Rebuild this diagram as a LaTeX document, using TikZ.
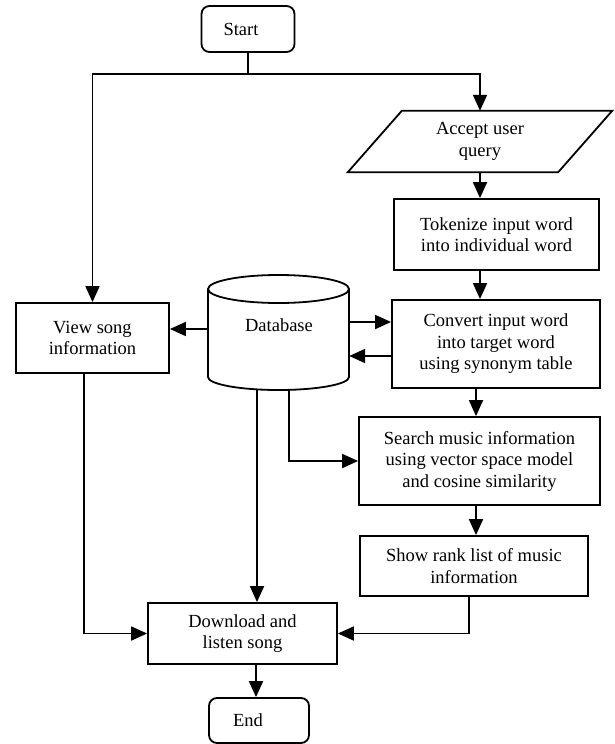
\documentclass[tikz,border=0pt]{standalone}
\usepackage{fontspec}
\setmainfont{Liberation Serif}
\usetikzlibrary{arrows.meta}
\begin{document}
\begin{tikzpicture}[x=1pt,y=-1pt,
  txt/.style={inner sep=0pt, align=center, font=\fontsize{18.5}{21.5}\selectfont},
  box/.style={txt, draw, line width=1.8pt},
  term/.style={box, rounded corners=8pt},
  conn/.style={line width=1.8pt},
  arr/.style={conn, -{Triangle[length=16pt,width=14pt]}}]
\useasboundingbox (0,0) rectangle (614,744);
% nodes
\node[term, minimum width=93pt, minimum height=46pt] (start) at (248,29) {Start\hspace*{14pt}};
\node[txt, minimum width=210pt, minimum height=61pt] (acc) at (480,141.5) {Accept user\\query};
\draw[conn] ([xshift=27pt]acc.north west) -- ([xshift=27pt]acc.north east)
  -- ([xshift=-27pt]acc.south east) -- ([xshift=-27pt]acc.south west) -- cycle;
\node[box, minimum width=205pt, minimum height=71pt] (tok) at (496.5,234.5) {Tokenize input word\\into individual word};
\node[box, minimum width=208pt, minimum height=88pt] (conv) at (496,344) {Convert input word\\into target word\\using synonym table};
\node[box, minimum width=153pt, minimum height=70pt] (view) at (92.5,338) {View song\\information};
\node[box, minimum width=241pt, minimum height=88pt] (search) at (479.5,461) {Search music information\\using vector space model\\and cosine similarity};
\node[box, minimum width=228pt, minimum height=60pt] (rank) at (474,566) {Show rank list of music\\information};
\node[box, minimum width=189pt, minimum height=61pt] (dl) at (242.5,633.5) {Download and\\listen song};
\node[term, minimum width=100pt, minimum height=45pt] (fin) at (259,720.5) {End\hspace*{22pt}};
% database cylinder
\node[txt, minimum width=141pt, minimum height=116pt] (db) at (278.5,333) {};
\draw[conn] (208,289) -- (208,377) arc[start angle=180, end angle=360, x radius=70.5pt, y radius=13pt] -- (349,289);
\draw[conn] (278.5,289) ellipse [x radius=70.5pt, y radius=14pt];
\node[txt] (dblbl) at (279,325) {Database};
% helper coordinates
\path (start.south) ++(0,21) coordinate (j);
\coordinate (cB) at (476,0);
\coordinate (cR) at (469,0);
\coordinate (cV) at (84,0);
\coordinate (c1) at (257,0);
\coordinate (c2) at (289,0);
\coordinate (cE) at (256,0);
\coordinate (yb) at (0,389.5);
\coordinate (y329) at (0,329);
\coordinate (y322) at (0,322);
\coordinate (y356) at (0,356);
% connectors
\draw[conn] (start.south) -- (j);
\draw[arr] (j) -| (view.north);
\draw[arr] (j) -| (acc.north);
\draw[arr] (acc.south) -- (acc.south |- tok.north);
\draw[arr] (acc.south |- tok.south) -- (acc.south |- conv.north);
\draw[arr] (cB |- conv.south) -- (cB |- search.north);
\draw[arr] (cB |- search.south) -- (cB |- rank.north);
\draw[arr] (cR |- rank.south) |- (dl.east);
\draw[arr] (cV |- view.south) |- (dl.west);
\draw[arr] (c1 |- yb) -- (c1 |- dl.north);
\draw[arr] (c2 |- yb) |- (search.west);
\draw[arr] (db.west |- y329) -- (view.east |- y329);
\draw[arr] (db.east |- y322) -- (conv.west |- y322);
\draw[arr] (conv.west |- y356) -- (db.east |- y356);
\draw[arr] (cE |- dl.south) -- (cE |- fin.north);
\end{tikzpicture}
\end{document}
